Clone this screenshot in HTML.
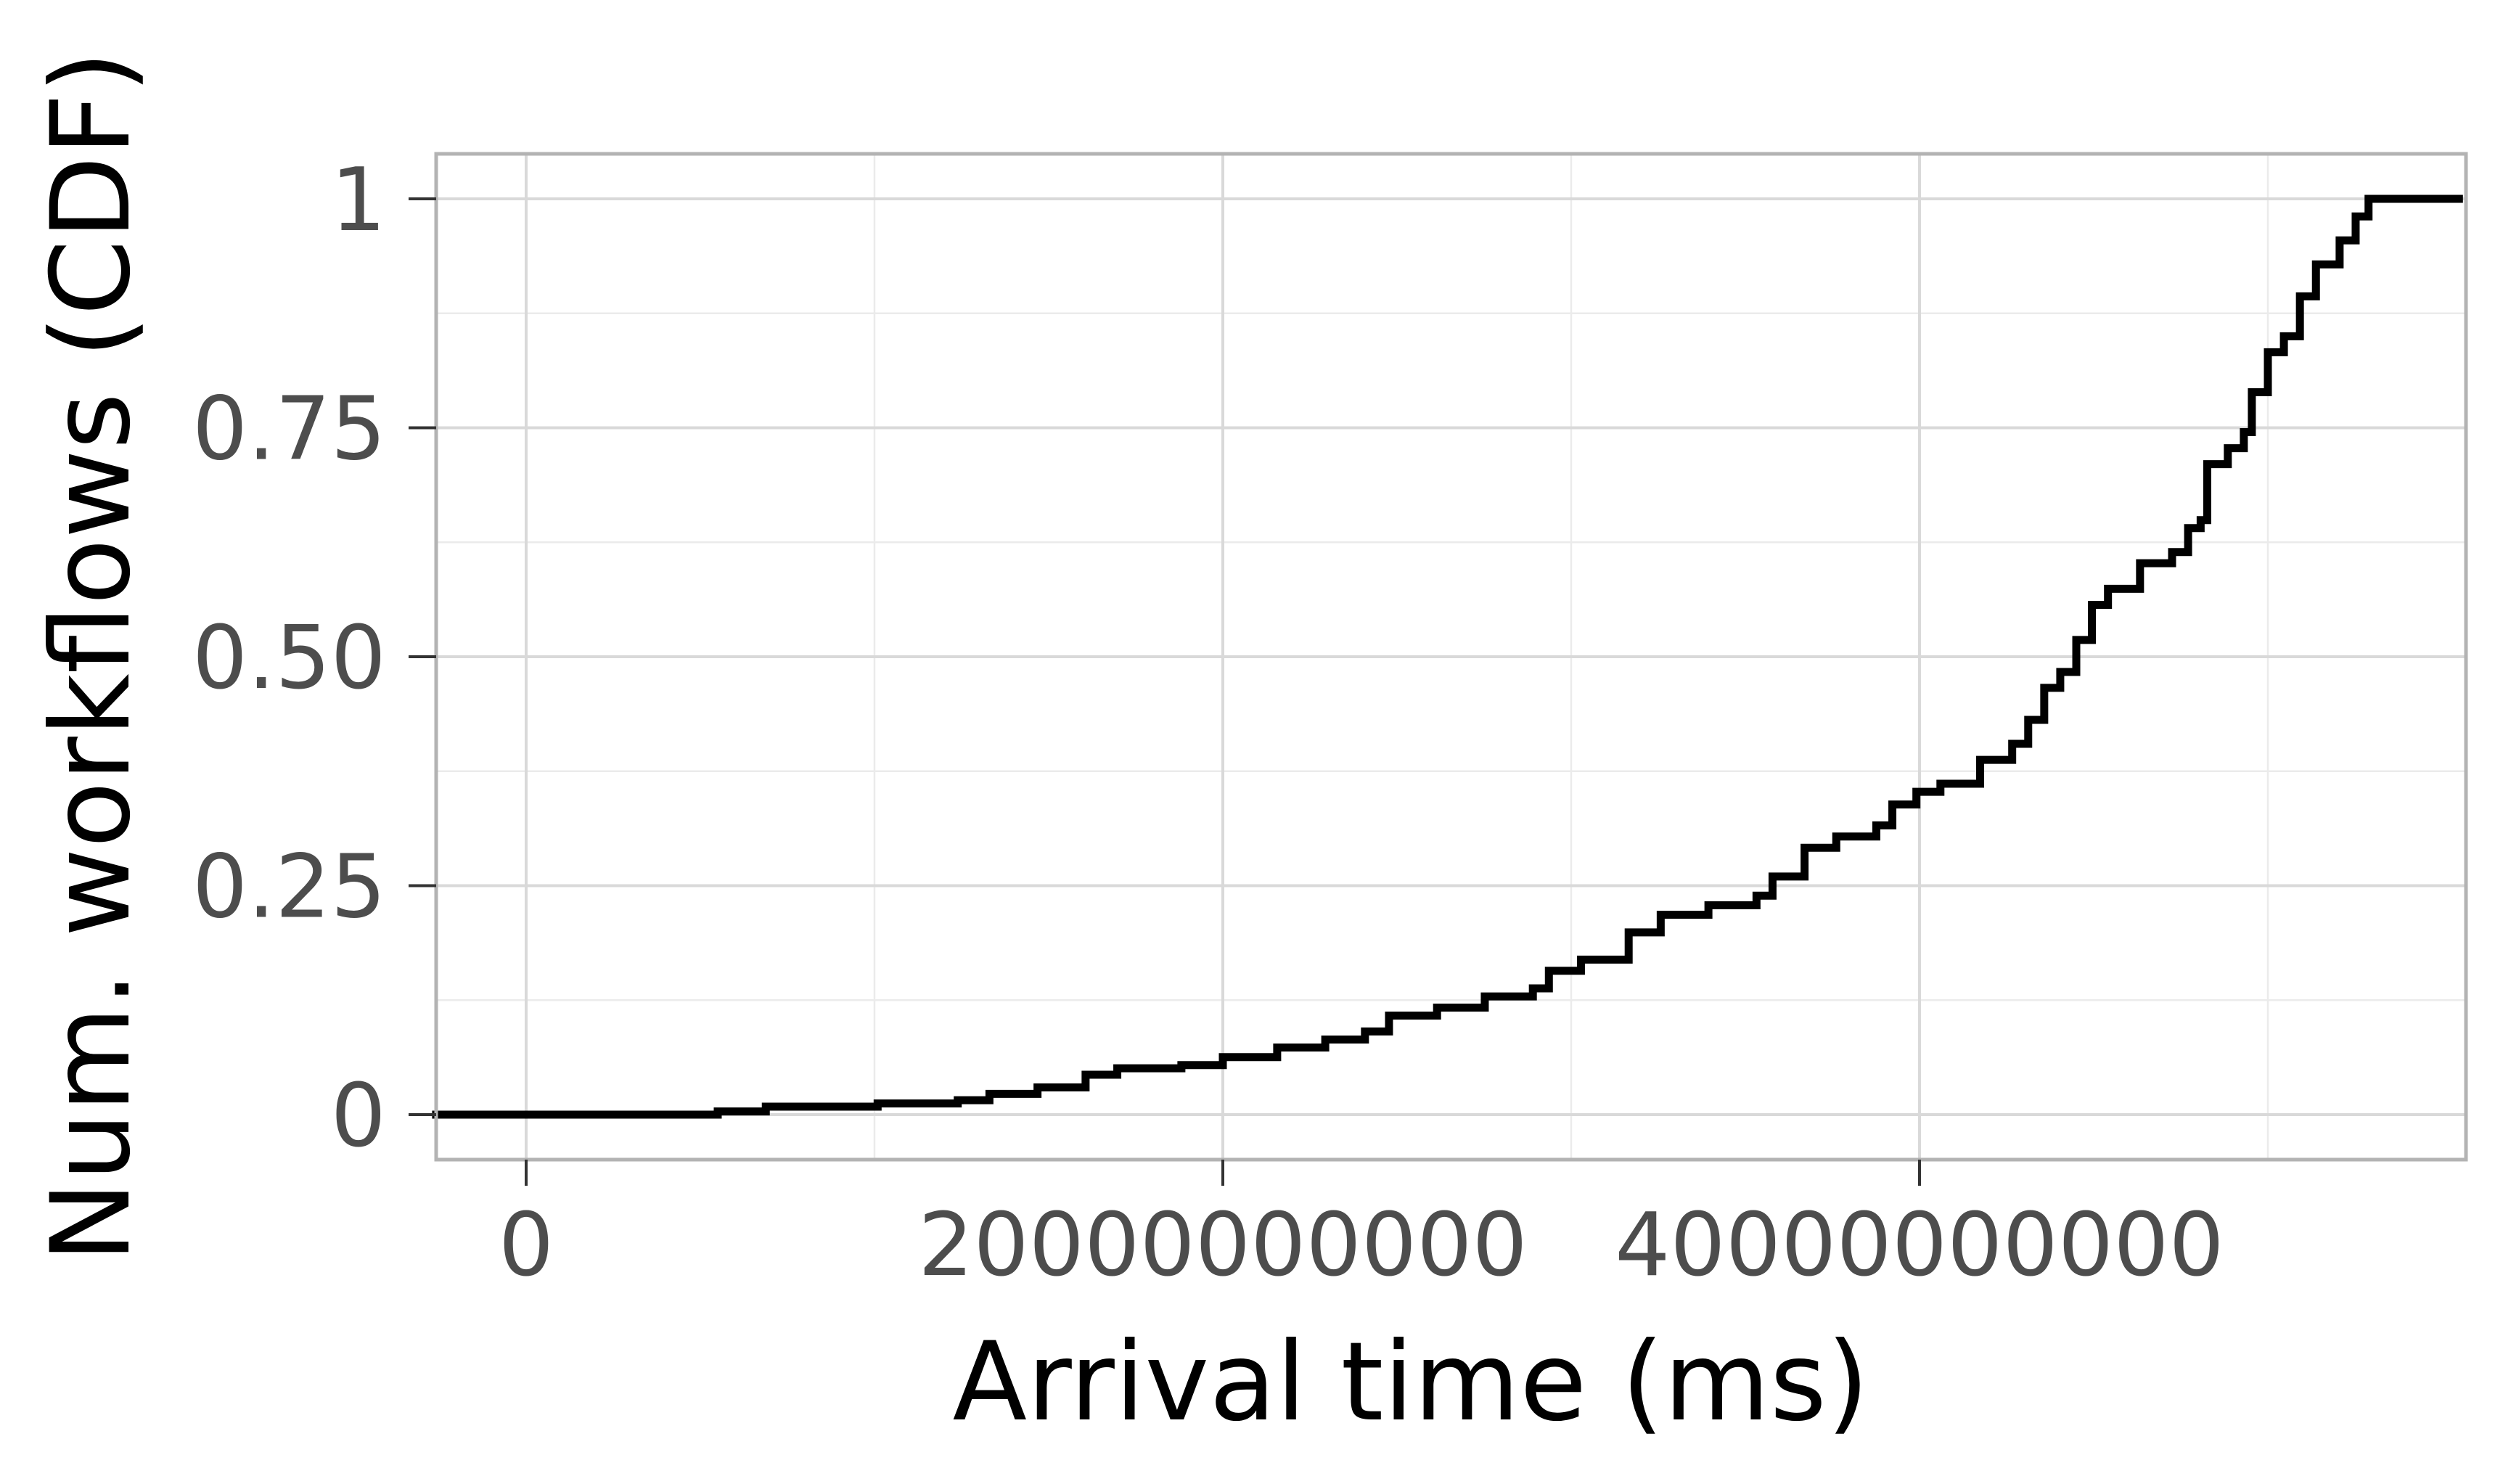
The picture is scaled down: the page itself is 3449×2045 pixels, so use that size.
<!DOCTYPE html>
<html><head><meta charset="utf-8"><style>
html,body{margin:0;padding:0;background:#fff;}
svg{display:block;font-family:"DejaVu Sans","Liberation Sans",sans-serif;}
</style></head><body>
<svg id="chart" width="3449" height="2045" viewBox="0 0 3449 2045" xmlns="http://www.w3.org/2000/svg">
<rect width="3449" height="2045" fill="#fff"/>
<g id="grid"></g>
<path id="cdf" fill="none" stroke="#000" stroke-width="11"/>
<rect x="601" y="212" width="2797" height="1386" fill="none" stroke="#b3b3b3" stroke-width="5"/>
<g id="axes"></g>
<text x="1944" y="1956" font-size="150" text-anchor="middle" fill="#000">Arrival time (ms)</text>
<text transform="translate(177,905) rotate(-90)" font-size="150" text-anchor="middle" fill="#000">Num. workflows (CDF)</text>
</svg>
<script>
// data: x in units of 1e10 ms, y as CDF fraction
const xValues = [-0.27,0,0.55,0.688,1.009,1.239,1.33,1.468,1.606,1.697,1.881,2.0,2.156,2.294,2.408,2.477,2.615,2.752,2.89,2.936,3.028,3.165,3.257,3.394,3.532,3.578,3.67,3.761,3.876,3.922,3.991,4.06,4.174,4.266,4.312,4.358,4.404,4.45,4.495,4.541,4.633,4.725,4.771,4.807,4.826,4.885,4.931,4.954,5.0,5.046,5.092,5.138,5.206,5.252,5.289];
const yValues = [0,0,0.0035,0.0087,0.0122,0.0157,0.0227,0.0297,0.0436,0.0506,0.0541,0.0628,0.0733,0.082,0.0908,0.1082,0.1169,0.1291,0.1379,0.1571,0.1693,0.199,0.2182,0.2286,0.2391,0.26,0.2914,0.3037,0.3159,0.3386,0.3525,0.3613,0.3874,0.4049,0.4311,0.466,0.4834,0.5183,0.5567,0.5742,0.6021,0.6143,0.6405,0.6492,0.7103,0.7277,0.7452,0.7888,0.8325,0.8499,0.8935,0.9284,0.9546,0.9808,1.0];
const xMax = 5.56;
const xTickValues = [0, 2, 4];
const xTickLabels = ["0", "20000000000", "40000000000"];
const xMinorValues = [1, 3, 5];
const yTickValues = [0, 0.25, 0.5, 0.75, 1];
const yTickLabels = ["0", "0.25", "0.50", "0.75", "1"];
const yMinorValues = [0.125, 0.375, 0.625, 0.875];

const NS = "http://www.w3.org/2000/svg";
const PL = 601, PR = 3398, PT = 212, PB = 1598;
const sx = v => 725 + v * 480;
const sy = v => 1536 - v * 1262;
const grid = document.getElementById('grid');
const axes = document.getElementById('axes');
function line(parent, x1, y1, x2, y2, stroke, w) {
  const l = document.createElementNS(NS, 'line');
  l.setAttribute('x1', x1); l.setAttribute('y1', y1);
  l.setAttribute('x2', x2); l.setAttribute('y2', y2);
  l.setAttribute('stroke', stroke); l.setAttribute('stroke-width', w);
  parent.appendChild(l);
  return l;
}
yMinorValues.forEach(v => {
  const l = line(grid, PL, sy(v), PR, sy(v), '#ebebeb', 2.5);
  
  
});
xMinorValues.forEach(v => {
  const l = line(grid, sx(v), PT, sx(v), PB, '#ebebeb', 2.5);
  
  
});
yTickValues.forEach((v, i) => {
  const g = line(grid, PL, sy(v), PR, sy(v), '#d9d9d9', 4);
  
  
  const t = line(axes, 563, sy(v), PL, sy(v), '#333', 4);
  
  
  const tx = document.createElementNS(NS, 'text');
  tx.setAttribute('x', 532); tx.setAttribute('y', sy(v) + 43);
  tx.setAttribute('text-anchor', 'end'); tx.setAttribute('font-size', '120'); tx.setAttribute('fill', '#4d4d4d');
  tx.textContent = yTickLabels[i];
  
  
  axes.appendChild(tx);
});
xTickValues.forEach((v, i) => {
  const g = line(grid, sx(v), PT, sx(v), PB, '#d9d9d9', 4);
  
  
  const t = line(axes, sx(v), PB, sx(v), 1634, '#333', 4);
  
  
  const tx = document.createElementNS(NS, 'text');
  tx.setAttribute('x', sx(v)); tx.setAttribute('y', 1757);
  tx.setAttribute('text-anchor', 'middle'); tx.setAttribute('font-size', '120'); tx.setAttribute('fill', '#4d4d4d');
  tx.textContent = xTickLabels[i];
  
  
  axes.appendChild(tx);
});
let d = 'M' + sx(xValues[0]) + ',' + sy(yValues[0]);
for (let i = 1; i < xValues.length; i++) {
  d += ' H' + sx(xValues[i]) + ' V' + sy(yValues[i]);
}
d += ' H' + sx(xMax);
document.getElementById('cdf').setAttribute('d', d);
</script>
</body></html>
